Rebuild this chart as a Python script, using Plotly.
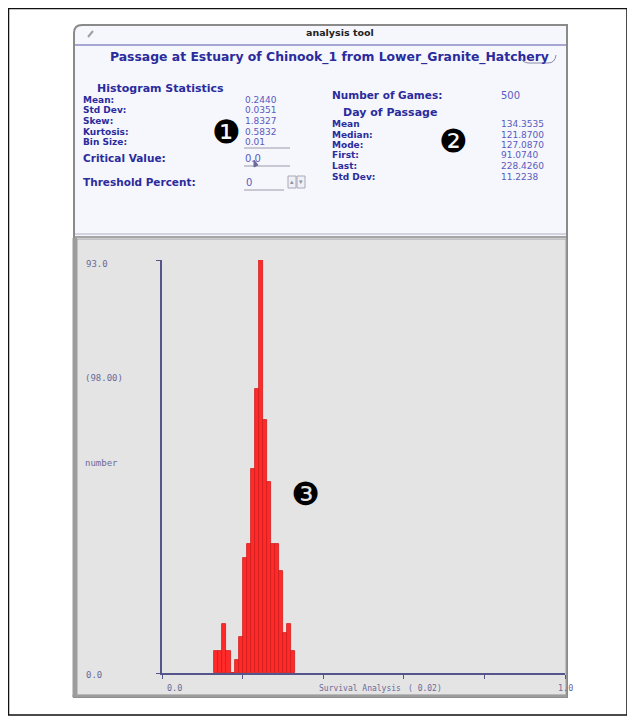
import plotly.graph_objects as go

# page body has an 8px margin: figure drawn from screen pixel (8,8)
OFF = 8
W, H = 627, 714

# ---- data ----
bin_centers = [0.135, 0.145, 0.155, 0.165, 0.175, 0.185, 0.195, 0.205, 0.215, 0.225,
               0.235, 0.245, 0.255, 0.265, 0.275, 0.285, 0.295, 0.305, 0.315, 0.325]
counts = [5, 5, 11, 5, 0, 3, 8, 26, 29, 46, 64, 93, 57, 43, 29, 29, 23, 9, 11, 5]
bin_size = 0.01
y_max = 93.0
x_ticks = [0.0, 0.2, 0.4, 0.6, 0.8, 1.0]

hist_labels = ["Mean:", "Std Dev:", "Skew:", "Kurtosis:", "Bin Size:"]
hist_values = ["0.2440", "0.0351", "1.8327", "0.5832", "0.01"]
passage_labels = ["Mean", "Median:", "Mode:", "First:", "Last:", "Std Dev:"]
passage_values = ["134.3535", "121.8700", "127.0870", "91.0740", "228.4260", "11.2238"]
n_games = "500"
window_title = "analysis tool"
header = "Passage at Estuary of Chinook_1 from Lower_Granite_Hatchery"

LBL = "#2b2b9c"
VAL = "#5a5ac0"
AX = "#6a6a98"


def px(x):
    return (x - OFF) / W


def py(y):
    return 1 - (y - OFF) / H


shapes = []
ann = []


def rect(x0, y0, x1, y1, fill=None, line=None, lw=1, layer="below"):
    shapes.append(dict(type="rect", xref="paper", yref="paper",
                       x0=px(x0), x1=px(x1), y0=py(y1), y1=py(y0),
                       fillcolor=fill or "rgba(0,0,0,0)",
                       line=dict(color=line or "rgba(0,0,0,0)", width=lw if line else 0),
                       layer=layer))


def hline(x0, x1, y, color, lw=1):
    shapes.append(dict(type="line", xref="paper", yref="paper",
                       x0=px(x0), x1=px(x1), y0=py(y), y1=py(y),
                       line=dict(color=color, width=lw), layer="below"))


def txt(s, x, y, size, color, bold=False, family="DejaVu Sans", anchor="left"):
    ann.append(dict(text=f"<b>{s}</b>" if bold else s, x=px(x), y=py(y),
                    xref="paper", yref="paper", xanchor=anchor, yanchor="middle",
                    showarrow=False, borderpad=0,
                    font=dict(family=family, size=size, color=color)))


# outer frame
rect(8.5, 8.5, 627, 715, line="#111111", lw=1.5)
# window body (rounded top-left)
path = (f"M {px(74)},{py(697)} L {px(74)},{py(33)} Q {px(74)},{py(25)} {px(82)},{py(25)} "
        f"L {px(567)},{py(25)} L {px(567)},{py(697)} Z")
shapes.append(dict(type="path", xref="paper", yref="paper", path=path,
                   fillcolor="#f5f7fc", line=dict(color="#8a8a8a", width=2), layer="below"))
# title bar separator
hline(75, 566, 45, "#8c8cc8", 1.5)
# icon
shapes.append(dict(type="line", xref="paper", yref="paper", x0=px(88), y0=py(37), x1=px(93), y1=py(31),
                   line=dict(color="#a0a0a0", width=2), layer="below"))
# button outline partly hidden behind header
shapes.append(dict(type="path", xref="paper", yref="paper",
                   path=(f"M {px(520)},{py(55)} Q {px(521)},{py(63)} {px(529)},{py(63)} "
                         f"L {px(548)},{py(63)} Q {px(555)},{py(63)} {px(556)},{py(55)}"),
                   line=dict(color="#8a8aa8", width=1), layer="below"))
# stats / plot separator
hline(75, 566, 234, "#b0b0c0", 1)
hline(75, 566, 237, "#8a8a8a", 1.5)
# plot panel
rect(77, 239, 566, 695, fill="#e4e4e4", line="#a0a0a0", lw=1)
# left thick border
rect(72.5, 238, 77, 697, fill="#9c9c9c")
hline(72.5, 567, 696, "#9c9c9c", 2.5)

# field underlines
hline(244, 290, 148, "#9a9aa8", 1)
hline(244, 290, 166, "#9a9aa8", 1)
hline(244, 284, 190, "#9a9aa8", 1)
# text cursor in critical value field
shapes.append(dict(type="path", xref="paper", yref="paper",
                   path=f"M {px(254)},{py(160)} L {px(254)},{py(167)} L {px(258)},{py(165)} Z",
                   fillcolor="#6a6a9a", line=dict(color="#6a6a9a", width=1), layer="below"))
# spinner
rect(288, 176, 296, 188, fill="#eef0f6", line="#a8a8b8", lw=1)
rect(297, 176, 305, 188, fill="#eef0f6", line="#a8a8b8", lw=1)
txt("▴", 292, 182, 7, "#9090a0", anchor="center")
txt("▾", 301, 182, 7, "#9090a0", anchor="center")

# texts
FS = 9
txt(window_title, 340, 33, 9.5, "#222222", bold=True, anchor="center")
txt(header, 329, 57, 12.4, LBL, bold=True, anchor="center")
txt("Histogram Statistics", 96, 88, 11, LBL, bold=True)
hist_y = [100, 110.5, 121, 131.5, 142]
for lab, val, yy in zip(hist_labels, hist_values, hist_y):
    txt(lab, 82, yy, FS, LBL, bold=True)
    txt(val, 244, yy, FS, VAL)
txt("Critical Value:", 82, 158, 10.5, LBL, bold=True)
txt("0.0", 244, 158, 10, VAL)
txt("Threshold Percent:", 82, 182, 10.5, LBL, bold=True)
txt("0", 245, 182, 10, VAL)

txt("Number of Games:", 331, 95, 10.5, LBL, bold=True)
txt(n_games, 500, 95, 10, VAL)
txt("Day of Passage", 342, 112, 11, LBL, bold=True)
p_y = [124, 134.5, 145, 155.5, 166, 176.5]
for lab, val, yy in zip(passage_labels, passage_values, p_y):
    txt(lab, 331, yy, FS, LBL, bold=True)
    txt(val, 500, yy, FS, VAL)

# callout markers
txt("❶", 226, 132, 32, "#000000", anchor="center")
txt("❷", 453, 141, 32, "#000000", anchor="center")
txt("❸", 305, 494, 32, "#000000", anchor="center")

# axis texts (monospace)
MONO = "DejaVu Sans Mono"
ann.append(dict(text="93.0", x=px(84), y=y_max, xref="paper", yref="y", xanchor="left",
                yanchor="middle", yshift=-4, showarrow=False, font=dict(family=MONO, size=9, color=AX)))
ann.append(dict(text="0.0", x=px(84), y=0, xref="paper", yref="y", xanchor="left",
                yanchor="middle", yshift=-2, showarrow=False, font=dict(family=MONO, size=9, color=AX)))
txt("(98.00)", 84, 378, 9, AX, family=MONO)
txt("number", 84, 463, 9, AX, family=MONO)
ann.append(dict(text="0.0", x=0.0, y=0, xref="x", yref="y", xanchor="left", yanchor="middle",
                xshift=3, yshift=-15, showarrow=False, font=dict(family=MONO, size=8.5, color=AX)))
ann.append(dict(text="1.0", x=1.0, y=0, xref="x", yref="y", xanchor="center", yanchor="middle",
                yshift=-15, showarrow=False, font=dict(family=MONO, size=8.5, color=AX)))
txt("Survival Analysis", 318, 688, 8, AX, family=MONO)
txt("( 0.02)", 407, 688, 8, AX, family=MONO)

fig = go.Figure(go.Bar(
    x=bin_centers, y=counts, width=bin_size,
    marker=dict(color="#ff2b2b", line=dict(color="#d01a1a", width=0.8)),
    hoverinfo="skip"))

fig.update_layout(
    width=W, height=H, autosize=False,
    margin=dict(l=0, r=0, t=0, b=0, pad=0),
    paper_bgcolor="white", plot_bgcolor="rgba(0,0,0,0)",
    showlegend=False, bargap=0,
    shapes=shapes, annotations=ann,
    xaxis=dict(domain=[px(162), px(565)], range=[0, 1], showgrid=False, zeroline=False,
               showline=True, linecolor="#55558c", linewidth=1.5, ticks="outside",
               ticklen=4, tickcolor="#55558c", tickvals=x_ticks, showticklabels=False,
               fixedrange=True),
    yaxis=dict(domain=[py(673), py(260)], range=[0, y_max], showgrid=False, zeroline=False,
               showline=True, linecolor="#55558c", linewidth=1.5, ticks="outside",
               ticklen=4, tickcolor="#55558c", tickvals=[0, y_max], showticklabels=False,
               fixedrange=True),
)

fig.write_html("out.html")
